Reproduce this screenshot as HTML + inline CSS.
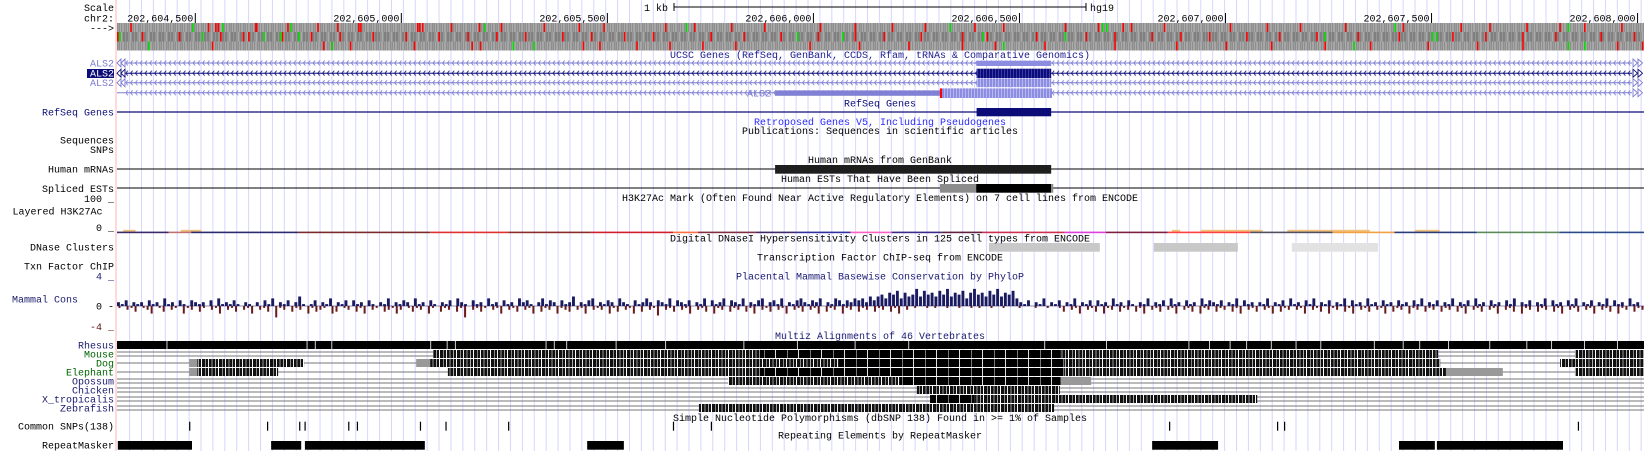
<!DOCTYPE html>
<html><head><meta charset="utf-8">
<style>
html,body{margin:0;padding:0;background:#fff;width:1644px;height:451px;overflow:hidden}
svg{display:block;font-family:"Liberation Mono",monospace;font-size:10px}
.lb{text-anchor:end;fill:#000}
.tt{text-anchor:middle;fill:#000}
</style></head>
<body>
<svg id="g" width="1644" height="451" viewBox="0 0 1644 451" xmlns="http://www.w3.org/2000/svg">
<defs>
  <pattern id="pbase" width="7" height="10" patternUnits="userSpaceOnUse">
    <rect width="7" height="10" fill="#8e8e8e"/><rect x="1" width="1" height="10" fill="#aaaaaa"/><rect x="3" width="2" height="10" fill="#a6a6a6"/><rect x="6" width="1" height="10" fill="#9c9c9c"/>
  </pattern>
  <pattern id="pbase2" width="9" height="10" patternUnits="userSpaceOnUse">
    <rect width="9" height="10" fill="#959595"/><rect x="0" width="2" height="10" fill="#808080"/><rect x="4" width="1" height="10" fill="#aaaaaa"/><rect x="6" width="2" height="10" fill="#7f7f7f"/>
  </pattern>
  <pattern id="chevL" width="4.8" height="8" y="-4" patternUnits="userSpaceOnUse">
    <path d="M3,1.5 L1,4 L3,6.5" fill="none" stroke="#7b7bd0" stroke-width="0.9"/>
  </pattern>
  <pattern id="chevN" width="4.8" height="8" y="-4" patternUnits="userSpaceOnUse">
    <path d="M3,1.5 L1,4 L3,6.5" fill="none" stroke="#0c0c78" stroke-width="0.9"/>
  </pattern>
  <pattern id="exN" width="3" height="10" patternUnits="userSpaceOnUse">
    <rect width="3" height="10" fill="#0c0c78"/><rect x="2" width="1" height="10" fill="#3a3aa8"/>
  </pattern>
  <pattern id="exL" width="3" height="10" patternUnits="userSpaceOnUse">
    <rect width="3" height="10" fill="#8c8ce0"/><rect x="2" width="1" height="10" fill="#b8b8f0"/>
  </pattern>
  <pattern id="mzmix" width="17" height="8" patternUnits="userSpaceOnUse">
    <rect width="17" height="8" fill="#111"/><rect x="1" width="1" height="8" fill="#888"/><rect x="4" width="1" height="8" fill="#eee"/><rect x="7" width="2" height="8" fill="#555"/><rect x="11" width="1" height="8" fill="#aaa"/><rect x="14" width="1" height="8" fill="#fff"/>
  </pattern>
  <pattern id="mzdark" width="23" height="8" patternUnits="userSpaceOnUse">
    <rect width="23" height="8" fill="#000"/><rect x="5" width="1" height="8" fill="#777"/><rect x="16" width="1" height="8" fill="#ddd"/>
  </pattern>
</defs>
<g id="grid"></g>
<line x1="116" y1="0" x2="116" y2="451" stroke="#ffb4b4" stroke-width="1"/>
<g id="tracks"></g>
<g id="labels">
  <text class="lb" x="114" y="11">Scale</text>
  <text x="668" y="11" text-anchor="end">1 kb</text>
  <text x="1090" y="11">hg19</text>
  <text class="lb" x="114" y="21.5">chr2:</text>
  <text class="lb" x="114" y="31.5">---&gt;</text>
  <text class="tt" x="880" y="57.8" fill="#1a1a8c" style="fill:#1a1a8c">UCSC Genes (RefSeq, GenBank, CCDS, Rfam, tRNAs &amp; Comparative Genomics)</text>
  <text class="lb" x="114" y="66.5" style="fill:#7b7bd0">ALS2</text>
  <rect x="87" y="69" width="27" height="9" fill="#0c0c78"/>
  <text class="lb" x="114" y="76.7" style="fill:#fff">ALS2</text>
  <text class="lb" x="114" y="86.2" style="fill:#7b7bd0">ALS2</text>
  <text class="lb" x="771" y="96.3" style="fill:#7b7bd0">ALS2</text>
  <text class="tt" x="880" y="106.5" style="fill:#0c0c78">RefSeq Genes</text>
  <text class="lb" x="114" y="115.5" style="fill:#0c0c78">RefSeq Genes</text>
  <text class="tt" x="880" y="125.2" style="fill:#2a2aff">Retroposed Genes V5, Including Pseudogenes</text>
  <text class="tt" x="880" y="134.2">Publications: Sequences in scientific articles</text>
  <text class="lb" x="114" y="143.5">Sequences</text>
  <text class="lb" x="114" y="152.8">SNPs</text>
  <text class="tt" x="880" y="162.8">Human mRNAs from GenBank</text>
  <text class="lb" x="114" y="172.5">Human mRNAs</text>
  <text class="tt" x="880" y="182.2">Human ESTs That Have Been Spliced</text>
  <text class="lb" x="114" y="191.8">Spliced ESTs</text>
  <text class="lb" x="114" y="201.8">100 _</text>
  <text class="tt" x="880" y="201.1">H3K27Ac Mark (Often Found Near Active Regulatory Elements) on 7 cell lines from ENCODE</text>
  <text class="lb" x="102.5" y="214.5">Layered H3K27Ac</text>
  <text class="lb" x="114" y="231.2">0 _</text>
  <text class="tt" x="880" y="241.5">Digital DNaseI Hypersensitivity Clusters in 125 cell types from ENCODE</text>
  <text class="lb" x="114" y="250.5">DNase Clusters</text>
  <text class="tt" x="880" y="260.5">Transcription Factor ChIP-seq from ENCODE</text>
  <text class="lb" x="114" y="269.5">Txn Factor ChIP</text>
  <text class="lb" x="114" y="279.5" style="fill:#1a1a6e">4 _</text>
  <text class="tt" x="880" y="279.5" style="fill:#1a1a6e">Placental Mammal Basewise Conservation by PhyloP</text>
  <text class="lb" x="78" y="302.5" style="fill:#1a1a6e">Mammal Cons</text>
  <text class="lb" x="114" y="309.5">0 -</text>
  <text class="lb" x="114" y="330" style="fill:#5a1010">-4 _</text>
  <text class="tt" x="880" y="339.2" style="fill:#1a1a6e">Multiz Alignments of 46 Vertebrates</text>
  <text class="tt" x="880" y="420.8">Simple Nucleotide Polymorphisms (dbSNP 138) Found in &gt;= 1% of Samples</text>
  <text class="lb" x="114" y="429.5">Common SNPs(138)</text>
  <text class="tt" x="880" y="438.5">Repeating Elements by RepeatMasker</text>
  <text class="lb" x="114" y="448.5">RepeatMasker</text>
</g>
</svg>
<script>
// ---- data (genomic positions; offsets are bp relative to window start) ----
const WIN_START = 202604310;
const tickPositions = [202604500,202605000,202605500,202606000,202606500,202607000,202607500,202608000];
const tickLabels = ["202,604,500","202,605,000","202,605,500","202,606,000","202,606,500","202,607,000","202,607,500","202,608,000"];
const stopRow1 = [32,220,238,244,335,337,413,486,534,585,590,728,733,740,810,878,931,1035,1120,1180,1330,1400,1490,1570,1705,1790,1880,1960,2080,2150,2300,2380,2440,2460,2540,2700,2790,2870,2980,3120,3260,3330,3420,3500,3560,3650];
const metRow1 = [182,255,420,890,1380,2020,2390,2400,3100,3520];
const stopRow2 = [0,60,150,250,305,318,400,470,540,620,700,780,850,920,990,1080,1150,1230,1300,1440,1520,1610,1700,1790,1860,1950,2050,2110,2230,2350,2420,2510,2580,2650,2740,2820,2910,3010,3110,3240,3320,3410,3490,3600,3680];
const metRow2 = [5,205,355,395,440,1650,1760,2100,2300,2930,3190,3200];
const stopRow3 = [230,500,520,565,720,860,880,1130,1170,1260,1340,1420,1500,1680,1800,1920,2050,2130,2250,2420,2570,2690,2800,2930,3040,3180,3300,3410,3520,3640,3700];
const metRow3 = [75,520,960,1010,2150,3000,3520,3560];
const exonCommon = [2086,2267];
const nm4Utr = [1597,1997];
const nm4Cds = [2002,2269];
const refseqExon = [2086,2267];
const mrnaBlock = [1597,2267];
const estBlocks = [[1997,2085,"#8c8c8c"],[2085,2267,"#000000"],[2267,2272,"#8c8c8c"]];
const h3Segments = [[0,125,"#3a2a6a"],[125,180,"#c07070"],[180,440,"#2a2a70"],[440,760,"#7a2a2a"],[760,950,"#e03030"],[950,1150,"#8a2a2a"],[1150,1350,"#d02030"],[1350,1410,"#ff7040"],[1410,1550,"#803040"],[1550,1650,"#402a6a"],[1650,1780,"#3030a0"],[1780,1880,"#ff60c0"],[1880,2000,"#3a2a8a"],[2000,2100,"#602040"],[2100,2300,"#d03050"],[2300,2400,"#e040e0"],[2400,2550,"#802040"],[2550,2750,"#ff4040"],[2750,2950,"#505060"],[2950,3100,"#f0a040"],[3100,3300,"#2a3a7a"],[3300,3500,"#5a8a5a"],[3500,3706,"#2a4a8a"]];
const h3Bumps = [[15,45],[155,205],[2560,2580],[2630,2780],[2840,3040],[3150,3210]];
const dnaseBlocks = [[2116,2385,"#c8c8c8"],[2516,2720,"#c8c8c8"],[2851,3060,"#e2e2e2"]];
const consPos = ("2130212031204120310321203041213102102031402130251013021402130312031021402132041203102130421031204120"+
 "3120423102413203125021340213204210312420321403213021403124032140213402314021342132402143132434253"+
 "5647684756958675869576847967586957684"+
 "2130214021302140213031204120310214021304120312041321302140312021402130412031402130214031204120312031"+
 "20314021302140213041203120314021302140312031402130214031204120").split("").map(Number);
const consNeg = ("1021301240130210412031021402130214021306120312041321043012031402103214201312041031203160213102140213"+
 "0214031204123021402120413021403021502130214021304120312031402130214021302140312041203120312031402"+
 "0100101001001001010010010001000100100"+
 "1302140213041203120314021302140213041203120314021302140312021402130412031402130214031204120312031203"+
 "1402130214021304120312031402130214021304120312").split("").map(Number);
const rhesusGaps = [120,460,480,520,760,800,820,1040,1060,1090,1210,1330,1520,1650,1790,1920,2250,2400,2600,2650,2700,2740,2800,2860,2920,3050,3120,3160,3230,3330,3420,3480,3560,3640];
const speciesNames = ["Rhesus","Mouse","Dog","Elephant","Opossum","Chicken","X_tropicalis","Zebrafish"];
const speciesColors = ["#1a1a6e","#006400","#006400","#006400","#1a1a6e","#1a1a6e","#1a1a6e","#1a1a6e"];
const speciesGapStyle = ["none","double","single","single","double","double","double","double"];
const mzMouse = [[767,1560,"mix"],[1560,2290,"dark"],[2290,3206,"mix"],[3538,3706,"mix"]];
const mzDog = [[175,195,"gray"],[195,454,"mix"],[726,760,"gray"],[760,1750,"mix"],[1750,2300,"dark"],[2300,3211,"mix"],[3502,3706,"mix"]];
const mzElephant = [[175,195,"gray"],[195,391,"mix"],[803,1560,"mix"],[1560,2300,"dark"],[2300,3225,"mix"],[3225,3363,"gray"],[3538,3706,"mix"]];
const mzOpossum = [[1483,1900,"mix"],[1900,2290,"dark"],[2290,2364,"gray"]];
const mzChicken = [[1941,2288,"mix"]];
const mzXtrop = [[1973,2080,"dark"],[2080,2767,"mix"]];
const mzZebrafish = [[1412,2274,"mix"]];
const snpPositions = [202604485,202604674,202604752,202604765,202604871,202604892,202605045,202605107,202605259,202605659,202605751,202606863,202607125,202607142,202607855];
const repeatBlocks = [[2,182],[374,447],[456,747],[1141,1230],[2512,2672],[3111,3198],[3203,3509]];

// ---- scales ----
const X0 = 117, PXBP = 0.41208;
function xAbs(bp){ return X0 + (bp - WIN_START) * PXBP; }
function xOff(off){ return X0 + off * PXBP; }
const NS = "http://www.w3.org/2000/svg";
function mk(tag, attrs, parent){ const e = document.createElementNS(NS, tag); for (const k in attrs) e.setAttribute(k, attrs[k]); parent.appendChild(e); return e; }
const T = document.getElementById("tracks");
const G = document.getElementById("grid");

// gridlines
for (let i = 0; i < 128; i++) {
  const gx = 129.6 + i * 11.902;
  const l = mk("line", {x1:gx, y1:0, x2:gx, y2:451, stroke:"#d6d6ff", "stroke-width":1}, G);
  
  
}

// ruler
const sb = mk("path", {d:"M674,7 H1086 M674,3 V11 M1086,3 V11", stroke:"#000", fill:"none", "stroke-width":1}, T);


tickPositions.forEach((p, i) => {
  const x = xAbs(p);
  const tl = mk("line", {x1:x, y1:13, x2:x, y2:24, stroke:"#000", "stroke-width":1}, T);
  
  
  const tx = mk("text", {x:x-2, y:21.5, "text-anchor":"end"}, T);
  tx.textContent = tickLabels[i];
  
  
});

// base position / codon frames
const rowsY = [[23,9,"pbase",stopRow1,metRow1],[32,9.5,"pbase2",stopRow2,metRow2],[41.5,9,"pbase",stopRow3,metRow3]];
rowsY.forEach((r, ri) => {
  const bg = mk("rect", {x:X0, y:r[0], width:1644-X0, height:r[1], fill:"url(#"+r[2]+")"}, T);
  
  
  r[3].forEach(o => {
    const s = mk("rect", {x:xOff(o), y:r[0], width:1.6, height:r[1], fill:"#ff0000"}, T);
    
    
  });
  r[4].forEach(o => {
    const s = mk("rect", {x:xOff(o), y:r[0], width:1.6, height:r[1], fill:"#00e000"}, T);
    
    
  });
});

// genes
const geneRows = [[63,"#7b7bd0","chevL"],[73.2,"#0c0c78","chevN"],[82.7,"#7b7bd0","chevL"],[92.8,"#7b7bd0","chevL"]];
geneRows.forEach((g, gi) => {
  const grp = mk("g", {transform:"translate(0,"+g[0]+")"}, T);
  
  
  const ln = mk("line", {x1:X0, y1:0, x2:1632, y2:0, stroke:g[1], "stroke-width":1}, grp);
  
  
  const ch = mk("rect", {x:126, y:-4, width:1505, height:8, fill:"url(#"+g[2]+")"}, grp);
  
  
  if (gi < 3) {
    const la = mk("path", {d:"M121,-4 L117,0 L121,4 Z M125,-4 L121,0 L125,4 Z", fill:"#fff", stroke:g[1], "stroke-width":0.9}, grp);
    
    
  }
  const ra = mk("path", {d:"M1633,-4 L1637.5,0 L1633,4 Z M1638,-4 L1642.5,0 L1638,4 Z", fill:"#fff", stroke:g[1], "stroke-width":0.9}, grp);
  
  
});
const ex1 = mk("rect", {x:xOff(exonCommon[0]), y:60.7, width:(exonCommon[1]-exonCommon[0])*PXBP, height:5.3, fill:"#8c8ce0"}, T);


const ex2 = mk("rect", {x:xOff(exonCommon[0]), y:68.7, width:(exonCommon[1]-exonCommon[0])*PXBP, height:9.3, fill:"url(#exN)"}, T);


const ex3 = mk("rect", {x:xOff(exonCommon[0]), y:78.4, width:(exonCommon[1]-exonCommon[0])*PXBP, height:8.8, fill:"url(#exL)"}, T);


const ex4 = mk("rect", {x:xOff(nm4Utr[0]), y:90.4, width:(nm4Utr[1]-nm4Utr[0])*PXBP, height:5.4, fill:"#8080d4"}, T);


const ex4r = mk("rect", {x:xOff(nm4Utr[1]), y:88.4, width:(nm4Cds[0]-nm4Utr[1])*PXBP, height:9.6, fill:"#ff0000"}, T);


const ex4c = mk("rect", {x:xOff(nm4Cds[0]), y:88.4, width:(nm4Cds[1]-nm4Cds[0])*PXBP, height:9.6, fill:"url(#exL)"}, T);



// refseq
const rl = mk("line", {x1:X0, y1:112, x2:1644, y2:112, stroke:"#0c0c78", "stroke-width":1.2}, T);


const rx = mk("rect", {x:xOff(refseqExon[0]), y:108, width:(refseqExon[1]-refseqExon[0])*PXBP, height:8.3, fill:"#0c0c78"}, T);



// mRNA / EST
const ml = mk("line", {x1:X0, y1:169, x2:1644, y2:169, stroke:"#000", "stroke-width":1}, T);


const mb = mk("rect", {x:xOff(mrnaBlock[0]), y:165, width:(mrnaBlock[1]-mrnaBlock[0])*PXBP, height:8.7, fill:"#1e1e1e"}, T);


const el = mk("line", {x1:X0, y1:188, x2:1644, y2:188, stroke:"#000", "stroke-width":1}, T);


estBlocks.forEach(b => {
  const r = mk("rect", {x:xOff(b[0]), y:184, width:(b[1]-b[0])*PXBP, height:8.7, fill:b[2]}, T);
  
  
});

// H3K27Ac
h3Bumps.forEach(b => {
  const r = mk("rect", {x:xOff(b[0]), y:229.8, width:(b[1]-b[0])*PXBP, height:2, fill:"#f2c27a"}, T);
  
  
});
h3Segments.forEach(s => {
  const r = mk("rect", {x:xOff(s[0]), y:231.6, width:(s[1]-s[0])*PXBP, height:1.6, fill:s[2]}, T);
  
  
});

// DNase
dnaseBlocks.forEach(b => {
  const r = mk("rect", {x:xOff(b[0]), y:243, width:(b[1]-b[0])*PXBP, height:8.7, fill:b[2]}, T);
  
  
});

// conservation
const Y0 = 306;
const bwP = (1644 - X0) / consPos.length;
consPos.forEach((v, i) => {
  if (!v) return;
  const h = v * 1.9;
  const r = mk("rect", {x:X0 + i*bwP, y:Y0 - h, width:bwP*0.75, height:h, fill:"#1a1a60"}, T);
  
  
});
const bwN = (1644 - X0) / consNeg.length;
consNeg.forEach((v, i) => {
  if (!v) return;
  const h = v * 1.9;
  const r = mk("rect", {x:X0 + i*bwN + 1.5, y:Y0, width:bwN*0.5, height:h, fill:"#6b1a1a"}, T);
  
  
});
const zl = mk("line", {x1:X0, y1:Y0, x2:1644, y2:Y0, stroke:"#1a1a60", "stroke-width":0.6}, T);



// multiz
const speciesBlocks = [null, mzMouse, mzDog, mzElephant, mzOpossum, mzChicken, mzXtrop, mzZebrafish];
const L = document.getElementById("labels");
speciesNames.forEach((name, i) => {
  const top = 341 + i * 9;
  const lt = mk("text", {x:114, y:top + 7.5, "text-anchor":"end", fill:speciesColors[i]}, L);
  lt.textContent = name;
  
  
  if (speciesGapStyle[i] === "double") {
    const a = mk("path", {d:"M"+X0+","+(top+2)+" H1644 M"+X0+","+(top+6)+" H1644", stroke:"#777", "stroke-width":1, fill:"none"}, T);
    
    
  } else if (speciesGapStyle[i] === "single") {
    const a = mk("line", {x1:X0, y1:top+4, x2:1644, y2:top+4, stroke:"#777", "stroke-width":1}, T);
    
    
  }
  if (i === 0) {
    const r = mk("rect", {x:X0, y:top, width:1644-X0, height:8, fill:"#000"}, T);
    
    
    rhesusGaps.forEach(o => {
      const gp = mk("rect", {x:xOff(o), y:top, width:1, height:8, fill:"#cfcfcf"}, T);
      
      
    });
  } else {
    speciesBlocks[i].forEach(b => {
      const fill = b[2] === "mix" ? "url(#mzmix)" : (b[2] === "dark" ? "url(#mzdark)" : "#999");
      const r = mk("rect", {x:xOff(b[0]), y:top, width:(b[1]-b[0])*PXBP, height:8, fill:fill}, T);
      
      
    });
  }
});

// SNPs
snpPositions.forEach(p => {
  const r = mk("rect", {x:xAbs(p), y:421.7, width:1.2, height:9, fill:"#000"}, T);
  
  
});

// RepeatMasker
repeatBlocks.forEach(b => {
  const r = mk("rect", {x:xOff(b[0]), y:441, width:(b[1]-b[0])*PXBP, height:8.7, fill:"#000"}, T);
  
  
});
</script>
</body></html>
